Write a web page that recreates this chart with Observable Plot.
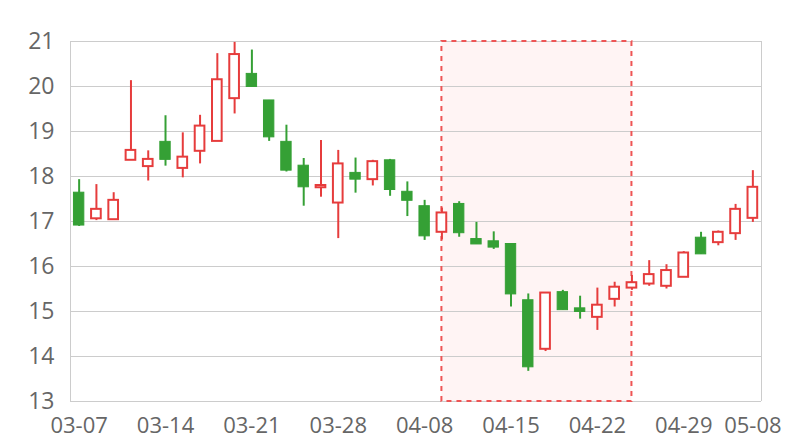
<!DOCTYPE html>
<html><head><meta charset="utf-8">
<script src="https://cdn.jsdelivr.net/npm/d3@7"></script>
<script src="https://cdn.jsdelivr.net/npm/@observablehq/plot@0.6"></script>
<style>
body{margin:0;background:#fff} #chart{width:800px;height:440px}
#chart [aria-label^="x-axis"] text{font-size:22px}
</style>
</head><body><div id="chart"></div>
<script>
const dates = ["03-07","03-08","03-09","03-10","03-11","03-14","03-15","03-16","03-17","03-18",
  "03-21","03-22","03-23","03-24","03-25","03-28","03-29","03-30","04-01","04-07",
  "04-08","04-11","04-12","04-13","04-14","04-15","04-18","04-19","04-20","04-21",
  "04-22","04-25","04-26","04-27","04-28","04-29","05-04","05-05","05-06","05-08"];
const opens  = [17.64,17.06,17.04,18.36,18.22,18.77,18.18,18.56,18.78,19.73,
  20.28,19.69,18.77,18.24,17.75,17.41,18.08,17.93,18.36,17.66,
  17.34,16.76,17.39,16.61,16.56,16.50,15.25,14.16,15.43,15.07,
  14.87,15.27,15.52,15.61,15.56,15.76,16.64,16.53,16.73,17.07];
const closes = [16.91,17.27,17.47,18.58,18.38,18.37,18.43,19.12,20.15,20.71,
  19.99,18.87,18.13,17.76,17.80,18.28,17.93,18.33,17.70,17.46,
  16.67,17.19,16.74,16.49,16.42,15.38,13.76,15.41,15.03,14.99,
  15.14,15.54,15.64,15.82,15.91,16.30,16.27,16.76,17.27,17.76];
const lows   = [16.89,17.02,17.04,18.36,17.90,18.23,17.97,18.28,18.78,19.39,
  19.99,18.78,18.10,17.34,17.54,16.62,17.63,17.79,17.56,17.11,
  16.58,16.59,16.65,16.49,16.38,15.10,13.67,14.11,15.03,14.83,
  14.58,15.10,15.47,15.56,15.50,15.76,16.27,16.46,16.58,16.98];
const highs  = [17.93,17.82,17.64,20.13,18.57,19.35,18.97,19.36,20.73,20.98,
  20.81,19.69,19.14,18.40,18.80,18.58,18.41,18.36,18.38,17.88,
  17.47,17.30,17.44,16.98,16.77,16.50,15.39,15.41,15.47,15.34,
  15.52,15.65,15.80,16.13,16.04,16.33,16.76,16.79,17.38,18.13];
const tickDates = ["03-07","03-14","03-21","03-28","04-08","04-15","04-22","04-29","05-08"];
const yTicks = [13,14,15,16,17,18,19,20,21];
const markStart = "04-11";
const markEnd = "04-26";

const RED = "#e63c3c", GREEN = "#35a035";
const data = dates.map((date, i) => ({i, date, open: opens[i], close: closes[i], low: lows[i], high: highs[i]}));
const up = data.filter(d => d.close >= d.open);
const down = data.filter(d => d.close < d.open);
const area = [{x1: dates.indexOf(markStart), x2: dates.indexOf(markEnd), y1: yTicks[0], y2: yTicks[yTicks.length - 1]}];

const chart = Plot.plot({
  width: 800, height: 440,
  marginLeft: 70, marginRight: 39, marginTop: 41, marginBottom: 39,
  style: {fontFamily: "'Open Sans', sans-serif", fontSize: "23px", color: "#666", background: "#fff"},
  x: {type: "linear", domain: [-0.5, dates.length - 0.5], ticks: tickDates.map(t => dates.indexOf(t)),
      tickFormat: i => dates[i], tickSize: 0, tickPadding: 16, label: null},
  y: {domain: [yTicks[0], yTicks[yTicks.length - 1]], ticks: yTicks, tickSize: 0, tickPadding: 16, label: null},
  marks: [
    Plot.rect(area, {x1: "x1", x2: "x2", y1: "y1", y2: "y2", fill: "#fff4f4"}),
    Plot.ruleY(yTicks, {stroke: "#cccccc"}),
    Plot.ruleX([-0.5, dates.length - 0.5], {stroke: "#cccccc"}),
    Plot.rect(area, {x1: "x1", x2: "x2", y1: "y1", y2: "y2", fill: "none", stroke: "#ee5555", strokeWidth: 2, strokeDasharray: "5,5"}),
    Plot.ruleX(down, {x: "i", y1: "low", y2: "high", stroke: GREEN, strokeWidth: 2}),
    Plot.ruleX(up, {x: "i", y1: "low", y2: "high", stroke: RED, strokeWidth: 2}),
    Plot.rect(down, {x1: d => d.i - 0.3, x2: d => d.i + 0.3, y1: "open", y2: "close", fill: GREEN, stroke: GREEN, strokeWidth: 1}),
    Plot.rect(up, {x1: d => d.i - 0.28, x2: d => d.i + 0.28, y1: "open", y2: "close", fill: "#fff", stroke: RED, strokeWidth: 2})
  ]
});
document.getElementById("chart").appendChild(chart);
</script>
</body></html>
